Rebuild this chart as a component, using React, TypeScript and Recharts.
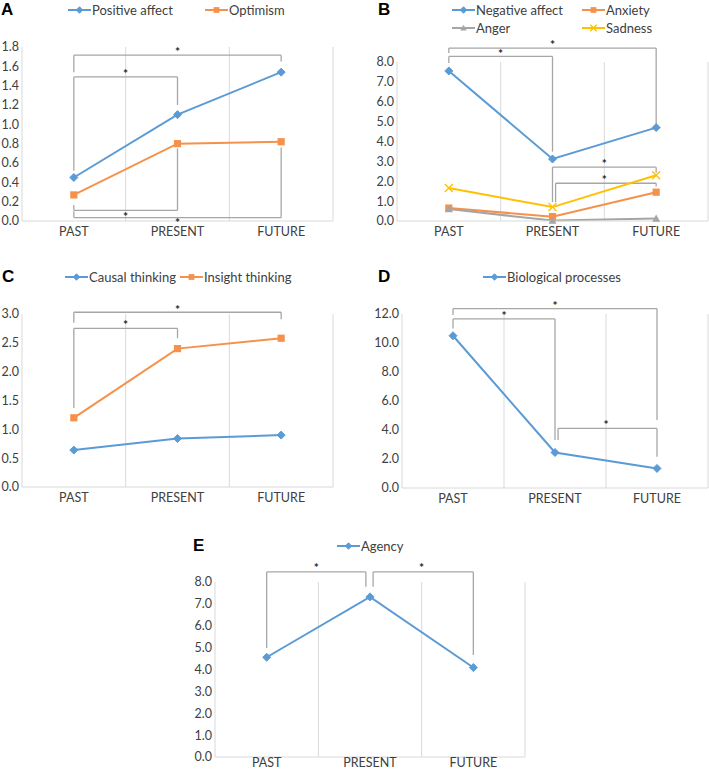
import React from "react";
import { LineChart, Line, XAxis, YAxis, ReferenceLine, ReferenceDot } from "recharts";

const categories = ["PAST", "PRESENT", "FUTURE"];

// A
const positiveAffect = [0.45, 1.1, 1.54];
const optimism = [0.27, 0.8, 0.82];
// B
const negativeAffect = [7.55, 3.12, 4.7];
const anxiety = [0.65, 0.22, 1.45];
const anger = [0.6, 0.02, 0.12];
const sadness = [1.66, 0.7, 2.3];
// C
const causalThinking = [0.64, 0.84, 0.9];
const insightThinking = [1.2, 2.4, 2.58];
// D
const biologicalProcesses = [10.5, 2.45, 1.35];
// E
const agency = [4.56, 7.32, 4.09];

const ticksA = [0, 0.2, 0.4, 0.6, 0.8, 1.0, 1.2, 1.4, 1.6, 1.8];
const ticksB = [0, 1, 2, 3, 4, 5, 6, 7, 8];
const ticksC = [0, 0.5, 1.0, 1.5, 2.0, 2.5, 3.0];
const ticksD = [0, 2, 4, 6, 8, 10, 12];
const ticksE = [0, 1, 2, 3, 4, 5, 6, 7, 8];

// significance brackets: [x1, x2, y, left leg end, right leg end, star x, star y]
const bracketsA = [
  [0, 2, 1.715, 1.54, 1.65, 1, 1.77],
  [0, 1, 1.49, 0.52, 1.2, 0.5, 1.54],
  [0, 1, 0.11, 0.165, 0.75, 0.5, 0.06],
  [0, 2, 0.035, 0.1, 0.76, 1, 0.0],
];
const bracketsB = [
  [0, 2, 8.7, 8.45, 4.84, 1, 8.96],
  [0, 1, 8.28, 7.95, 3.49, 0.5, 8.52],
  [1, 2, 2.71, 0.95, 2.43, 1.5, 2.99],
  [1.03, 2, 1.9, 0.95, 1.73, 1.5, 2.15],
];
const bracketsC = [
  [0, 2, 3.03, 2.85, 2.91, 1, 3.1],
  [0, 1, 2.75, 1.37, 2.58, 0.5, 2.84],
];
const bracketsD = [
  [0, 2, 12.37, 11.93, 4.69, 1, 12.7],
  [0, 1, 11.66, 11.0, 3.31, 0.5, 11.98],
  [1.03, 2, 4.11, 3.31, 2.16, 1.5, 4.46],
];
const bracketsE = [
  [0, 0.96, 8.46, 4.98, 7.78, 0.48, 8.72],
  [1.03, 2, 8.46, 7.78, 4.66, 1.5, 8.72],
];

const BLUE = "#5B9BD5";
const ORANGE = "#F5914A";
const GRAY = "#A5A5A5";
const YELLOW = "#FFC000";
const GRID = "#d9d9d9";
const BRACKET = "#a6a6a6";
const FONT = "Lato, 'Open Sans', sans-serif";

type Kind = "diamond" | "square" | "triangle" | "cross";
type Series = { key: string; name: string; values: number[]; color: string; marker: Kind };

function Marker({ cx, cy, kind, color, s = 1 }: { cx: number; cy: number; kind: Kind; color: string; s?: number }) {
  if (kind === "diamond") {
    const r = 4 * s;
    return <path d={`M${cx},${cy - r}L${cx + r},${cy}L${cx},${cy + r}L${cx - r},${cy}Z`} fill={color} stroke={color} />;
  }
  if (kind === "square") {
    const r = 3.6 * s;
    return <rect x={cx - r} y={cy - r} width={2 * r} height={2 * r} fill={color} />;
  }
  if (kind === "triangle") {
    const r = 4 * s;
    return <path d={`M${cx},${cy - r}L${cx + r},${cy + r * 0.8}L${cx - r},${cy + r * 0.8}Z`} fill={color} />;
  }
  const r = 4 * s;
  return (
    <path d={`M${cx - r},${cy - r}L${cx + r},${cy + r}M${cx + r},${cy - r}L${cx - r},${cy + r}`} stroke={color} strokeWidth={1.4} fill="none" />
  );
}

function LegendItem({ x, y, item }: { x: number; y: number; item: Series }) {
  return (
    <div style={{ position: "absolute", left: x, top: y - 9, height: 18, display: "flex", alignItems: "center", whiteSpace: "nowrap" }}>
      <svg width={23} height={12} style={{ display: "block" }}>
        <line x1={0} y1={6} x2={23} y2={6} stroke={item.color} strokeWidth={2} />
        <Marker cx={11.5} cy={6} kind={item.marker} color={item.color} s={0.8} />
      </svg>
      <span style={{ fontSize: 13, color: "#404040", marginLeft: 1 }}>{item.name}</span>
    </div>
  );
}

type PanelProps = {
  letter: string;
  letterPos: [number, number];
  legendPos: [number, number][];
  left: number;
  top: number;
  width: number;
  height: number;
  marginTop: number;
  marginRight: number;
  yWidth: number;
  xHeight: number;
  xTickMargin?: number;
  ticks: number[];
  series: Series[];
  brackets: number[][];
};

function Panel(p: PanelProps) {
  const data = categories.map((c, i) => {
    const row: Record<string, number | string> = { x: i, name: c };
    p.series.forEach((s) => (row[s.key] = s.values[i]));
    return row;
  });
  const yMax = p.ticks[p.ticks.length - 1];
  return (
    <>
      <div style={{ position: "absolute", left: p.letterPos[0], top: p.letterPos[1] - 10, fontFamily: "'Liberation Sans', Arial, sans-serif", fontWeight: 700, fontSize: 17, lineHeight: "20px" }}>
        {p.letter}
      </div>
      {p.series.map((s, i) => (
        <LegendItem key={s.key} x={p.legendPos[i][0]} y={p.legendPos[i][1]} item={s} />
      ))}
      <div style={{ position: "absolute", left: p.left, top: p.top }}>
        <LineChart
          width={p.width}
          height={p.height}
          data={data}
          margin={{ top: p.marginTop, right: p.marginRight, bottom: 0, left: 0 }}
        >
          <XAxis
            type="number"
            dataKey="x"
            domain={[-0.5, 2.5]}
            ticks={[0, 1, 2]}
            interval={0}
            tickFormatter={(v: number) => categories[v]}
            axisLine={{ stroke: GRID }}
            tickLine={false}
            tickSize={0}
            tickMargin={p.xTickMargin ?? 6}
            height={p.xHeight}
            tick={{ fontSize: 12.5, fill: "#404040", fontFamily: FONT }}
          />
          <YAxis
            type="number"
            domain={[0, yMax]}
            ticks={p.ticks}
            interval={0}
            width={p.yWidth}
            axisLine={false}
            tickLine={false}
            tickSize={0}
            tickMargin={3}
            tickFormatter={(v: number) => v.toFixed(1)}
            tick={{ fontSize: 12.5, fill: "#404040", fontFamily: FONT }}
          />
          {[-0.5, 0.5, 1.5, 2.5].map((x) => (
            <ReferenceLine key={"g" + x} x={x} stroke={GRID} strokeWidth={1} ifOverflow="visible" />
          ))}
          {p.brackets.flatMap((b, i) => [
            <ReferenceLine key={"h" + i} segment={[{ x: b[0], y: b[2] }, { x: b[1], y: b[2] }]} stroke={BRACKET} strokeWidth={1.3} ifOverflow="visible" />,
            <ReferenceLine key={"l" + i} segment={[{ x: b[0], y: b[2] }, { x: b[0], y: b[3] }]} stroke={BRACKET} strokeWidth={1.3} ifOverflow="visible" />,
            <ReferenceLine key={"r" + i} segment={[{ x: b[1], y: b[2] }, { x: b[1], y: b[4] }]} stroke={BRACKET} strokeWidth={1.3} ifOverflow="visible" />,
            <ReferenceDot
              key={"s" + i}
              x={b[5]}
              y={b[6]}
              r={0}
              ifOverflow="visible"
              shape={(d: any) => (
                <text x={d.cx} y={d.cy + 6} textAnchor="middle" fontSize={12} fontWeight={700} fill="#262626" fontFamily={FONT}>
                  *
                </text>
              )}
            />,
          ])}
          {p.series.map((s) => (
            <Line
              key={s.key}
              type="linear"
              dataKey={s.key}
              name={s.name}
              stroke={s.color}
              strokeWidth={2}
              isAnimationActive={false}
              dot={(d: any) => <Marker key={s.key + d.index} cx={d.cx} cy={d.cy} kind={s.marker} color={s.color} />}
              activeDot={false}
            />
          ))}
        </LineChart>
      </div>
    </>
  );
}

export default function App() {
  return (
    <div style={{ position: "absolute", left: 0, top: 0, width: 709, height: 772, background: "#fff", fontFamily: FONT, overflow: "hidden" }}>
      <Panel
        letter="A"
        letterPos={[1, 10]}
        legendPos={[[68, 10], [205, 10]]}
        left={0}
        top={0}
        width={340}
        height={240}
        marginTop={47}
        marginRight={7}
        yWidth={22}
        xHeight={19}
        ticks={ticksA}
        brackets={bracketsA}
        series={[
          { key: "pa", name: "Positive affect", values: positiveAffect, color: BLUE, marker: "diamond" },
          { key: "op", name: "Optimism", values: optimism, color: ORANGE, marker: "square" },
        ]}
      />
      <Panel
        letter="B"
        letterPos={[378, 10]}
        legendPos={[[452, 10], [582, 10], [452, 28], [582, 28]]}
        left={350}
        top={0}
        width={359}
        height={240}
        marginTop={62}
        marginRight={1}
        yWidth={47}
        xHeight={19}
        ticks={ticksB}
        brackets={bracketsB}
        series={[
          { key: "na", name: "Negative affect", values: negativeAffect, color: BLUE, marker: "diamond" },
          { key: "ax", name: "Anxiety", values: anxiety, color: ORANGE, marker: "square" },
          { key: "ag", name: "Anger", values: anger, color: GRAY, marker: "triangle" },
          { key: "sd", name: "Sadness", values: sadness, color: YELLOW, marker: "cross" },
        ]}
      />
      <Panel
        letter="C"
        letterPos={[2, 277]}
        legendPos={[[65, 277], [180, 277]]}
        left={0}
        top={240}
        width={340}
        height={266}
        marginTop={74}
        marginRight={7}
        yWidth={22}
        xHeight={19}
        ticks={ticksC}
        brackets={bracketsC}
        series={[
          { key: "ct", name: "Causal thinking", values: causalThinking, color: BLUE, marker: "diamond" },
          { key: "it", name: "Insight thinking", values: insightThinking, color: ORANGE, marker: "square" },
        ]}
      />
      <Panel
        letter="D"
        letterPos={[378, 277]}
        legendPos={[[483, 277]]}
        left={350}
        top={240}
        width={359}
        height={266}
        marginTop={74}
        marginRight={1}
        yWidth={52}
        xHeight={18}
        ticks={ticksD}
        brackets={bracketsD}
        series={[{ key: "bp", name: "Biological processes", values: biologicalProcesses, color: BLUE, marker: "diamond" }]}
      />
      <Panel
        letter="E"
        letterPos={[193, 546]}
        legendPos={[[337, 546]]}
        left={180}
        top={500}
        width={346}
        height={272}
        marginTop={82}
        marginRight={1}
        yWidth={35}
        xHeight={15}
        xTickMargin={1}
        ticks={ticksE}
        brackets={bracketsE}
        series={[{ key: "ag", name: "Agency", values: agency, color: BLUE, marker: "diamond" }]}
      />
    </div>
  );
}
